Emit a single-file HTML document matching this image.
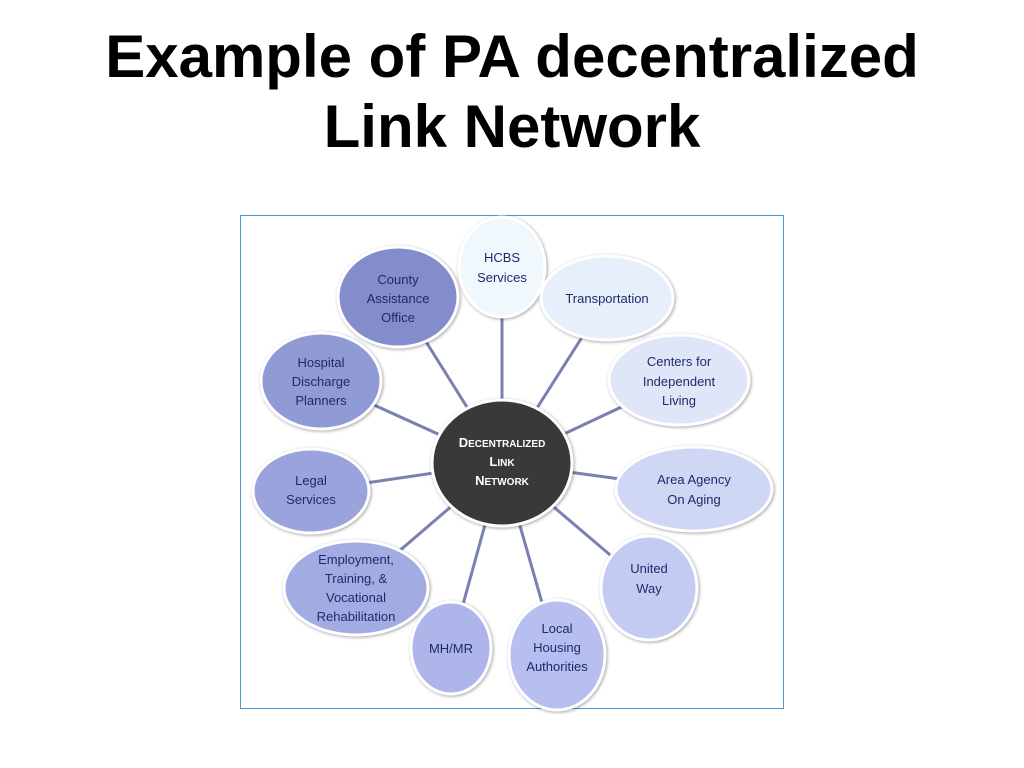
<!DOCTYPE html>
<html><head><meta charset="utf-8"><style>
html,body{margin:0;padding:0;background:#fff;}
body{width:1024px;height:768px;position:relative;overflow:hidden;font-family:"Liberation Sans",sans-serif;}
h1{position:absolute;left:0;width:1024px;top:22px;margin:0;text-align:center;font-size:60px;line-height:70px;font-weight:bold;color:#000;}
svg{position:absolute;left:0;top:0;}
</style></head><body>
<h1>Example of PA decentralized<br>Link Network</h1>
<svg width="1024" height="768" xmlns="http://www.w3.org/2000/svg">
<rect x="240.5" y="215.5" width="543" height="493" fill="#fff" stroke="#4a9ad6" stroke-width="1"/>
<g stroke="#7a80b0" stroke-width="3">
<line x1="502" y1="463" x2="502" y2="267"/>
<line x1="502" y1="463" x2="607" y2="298"/>
<line x1="502" y1="463" x2="679" y2="380"/>
<line x1="502" y1="463" x2="694" y2="489"/>
<line x1="502" y1="463" x2="649" y2="588"/>
<line x1="502" y1="463" x2="557" y2="655"/>
<line x1="502" y1="463" x2="451" y2="648"/>
<line x1="502" y1="463" x2="356" y2="588"/>
<line x1="502" y1="463" x2="311" y2="491"/>
<line x1="502" y1="463" x2="321" y2="381"/>
<line x1="502" y1="463" x2="398" y2="297"/>
</g>
<g stroke="#fff" stroke-width="3" style="filter:drop-shadow(1px 1px 1.5px rgba(0,0,0,0.35))">
<ellipse cx="502" cy="267" rx="43" ry="50" fill="#f0f8fe"/>
<ellipse cx="607" cy="298" rx="66" ry="42" fill="#e6effb"/>
<ellipse cx="679" cy="380" rx="70" ry="45" fill="#dfe6f8"/>
<ellipse cx="694" cy="489" rx="78" ry="42" fill="#cfd7f5"/>
<ellipse cx="649" cy="588" rx="48" ry="52" fill="#c3cbf3"/>
<ellipse cx="557" cy="655" rx="48" ry="55" fill="#b7bff0"/>
<ellipse cx="451" cy="648" rx="40" ry="46" fill="#adb5ea"/>
<ellipse cx="356" cy="588" rx="72" ry="47" fill="#a3ace2"/>
<ellipse cx="311" cy="491" rx="58" ry="42" fill="#9aa3dc"/>
<ellipse cx="321" cy="381" rx="60" ry="48" fill="#909ad5"/>
<ellipse cx="398" cy="297" rx="60" ry="50" fill="#838dcc"/>
<ellipse cx="502" cy="463" rx="70" ry="63" fill="#393939"/>
</g>
<g font-family="Liberation Sans, sans-serif" font-size="13" fill="#1f2a6b" text-anchor="middle">
<text x="502" y="262">HCBS</text><text x="502" y="282">Services</text>
<text x="607" y="303">Transportation</text>
<text x="679" y="366">Centers for</text><text x="679" y="386">Independent</text><text x="679" y="405">Living</text>
<text x="694" y="484">Area Agency</text><text x="694" y="504">On Aging</text>
<text x="649" y="573">United</text><text x="649" y="593">Way</text>
<text x="557" y="633">Local</text><text x="557" y="652">Housing</text><text x="557" y="671">Authorities</text>
<text x="451" y="653">MH/MR</text>
<text x="356" y="564">Employment,</text><text x="356" y="583">Training, &amp;</text><text x="356" y="602">Vocational</text><text x="356" y="621">Rehabilitation</text>
<text x="311" y="485">Legal</text><text x="311" y="504">Services</text>
<text x="321" y="367">Hospital</text><text x="321" y="386">Discharge</text><text x="321" y="405">Planners</text>
<text x="398" y="284">County</text><text x="398" y="303">Assistance</text><text x="398" y="322">Office</text>
</g>
<g font-family="Liberation Sans, sans-serif" font-weight="bold" fill="#fff" text-anchor="middle">
<text x="502" y="447" font-size="13">D<tspan font-size="10">ECENTRALIZED</tspan></text>
<text x="502" y="466" font-size="13">L<tspan font-size="10">INK</tspan></text>
<text x="502" y="485" font-size="13">N<tspan font-size="10">ETWORK</tspan></text>
</g>
</svg>
</body></html>
